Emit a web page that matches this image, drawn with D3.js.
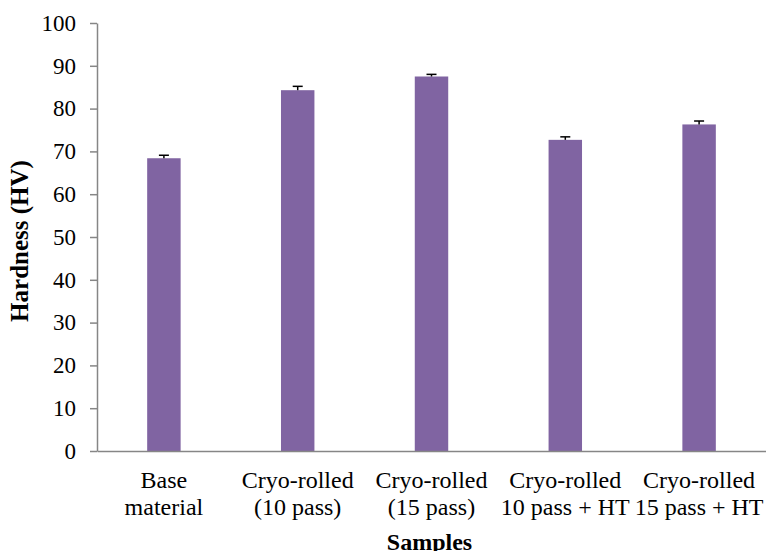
<!DOCTYPE html>
<html>
<head>
<meta charset="utf-8">
<script src="https://cdn.jsdelivr.net/npm/d3@7.9.0/dist/d3.min.js"></script>
<style>
  body { margin: 0; background: #fff; }
  svg { display: block; }
  svg text { font-family: "Liberation Serif", "Times New Roman", serif; }
</style>
</head>
<body>
<svg id="chart"></svg>
<script>
// chart data
const categories = [
  ["Base", "material"],
  ["Cryo-rolled", "(10 pass)"],
  ["Cryo-rolled", "(15 pass)"],
  ["Cryo-rolled", "10 pass + HT"],
  ["Cryo-rolled", "15 pass + HT"]
];
const hardness = [68.4, 84.3, 87.5, 72.7, 76.3];
const errors = [0.7, 0.9, 0.5, 0.7, 0.8];
const yTicks = [0, 10, 20, 30, 40, 50, 60, 70, 80, 90, 100];

const W = 766, H = 551;
const margin = { top: 23, right: 0, bottom: 100, left: 97 };
const width = W - margin.left - margin.right;
const height = H - margin.top - margin.bottom;
const FONT = "'Liberation Serif', 'Times New Roman', serif";

const svg = d3.select("#chart").attr("width", W).attr("height", H);
const g = svg.append("g").attr("transform", `translate(${margin.left},${margin.top})`);

const x = d3.scaleBand().domain(d3.range(categories.length)).range([0, width]).padding(0);
const y = d3.scaleLinear().domain([0, 100]).range([height, 0]);

const barW = x.bandwidth() * 0.25;

// bars
g.selectAll(".bar")
  .data(hardness)
  .enter()
  .append("rect")
  .attr("class", "bar")
  .attr("x", (d, i) => x(i) + x.bandwidth() / 2 - barW / 2)
  .attr("y", d => y(d))
  .attr("width", barW)
  .attr("height", d => height - y(d))
  .attr("fill", "#8064A2");

// error bars (upper only)
const err = g.selectAll(".err").data(hardness).enter().append("g").attr("class", "err");
err.append("line")
  .attr("x1", (d, i) => x(i) + x.bandwidth() / 2)
  .attr("x2", (d, i) => x(i) + x.bandwidth() / 2)
  .attr("y1", d => y(d))
  .attr("y2", (d, i) => y(d + errors[i]))
  .attr("stroke", "#000").attr("stroke-width", 1.5);
err.append("line")
  .attr("x1", (d, i) => x(i) + x.bandwidth() / 2 - 5)
  .attr("x2", (d, i) => x(i) + x.bandwidth() / 2 + 5)
  .attr("y1", (d, i) => y(d + errors[i]))
  .attr("y2", (d, i) => y(d + errors[i]))
  .attr("stroke", "#000").attr("stroke-width", 1.5);

// y axis
const yAxis = g.append("g")
  .call(d3.axisLeft(y).tickValues(yTicks).tickSize(7).tickPadding(14).tickSizeOuter(0));
yAxis.attr("font-family", FONT);
yAxis.select(".domain").attr("stroke", "#868686").attr("stroke-width", 1.5);
yAxis.selectAll(".tick line").attr("stroke", "#868686").attr("stroke-width", 1.5);
yAxis.selectAll(".tick text")
  .attr("font-family", FONT)
  .attr("font-size", 23).attr("fill", "#000");

// x axis
const xAxis = g.append("g")
  .attr("transform", `translate(0,${height})`)
  .call(d3.axisBottom(x).tickSize(0).tickFormat(""));
xAxis.select(".domain").attr("stroke", "#868686").attr("stroke-width", 1.5);

const xl = g.selectAll(".xlabel")
  .data(categories)
  .enter()
  .append("text")
  .attr("class", "xlabel")
  .attr("text-anchor", "middle")
  .attr("font-family", FONT)
  .attr("font-size", 24)
  .attr("fill", "#000");
xl.each(function (d, i) {
  const t = d3.select(this);
  d.forEach((line, j) => {
    t.append("tspan")
      .attr("x", x(i) + x.bandwidth() / 2)
      .attr("y", height + 37 + j * 27)
      .text(line);
  });
});

// axis titles
svg.append("text")
  .attr("x", margin.left + width / 2 - 2)
  .attr("y", 550)
  .attr("text-anchor", "middle")
  .attr("font-family", FONT)
  .attr("font-size", 24).attr("font-weight", "bold")
  .text("Samples");

svg.append("text")
  .attr("transform", "translate(28,241) rotate(-90)")
  .attr("text-anchor", "middle")
  .attr("font-family", FONT)
  .attr("font-size", 25).attr("font-weight", "bold")
  .text("Hardness (HV)");
</script>
</body>
</html>
